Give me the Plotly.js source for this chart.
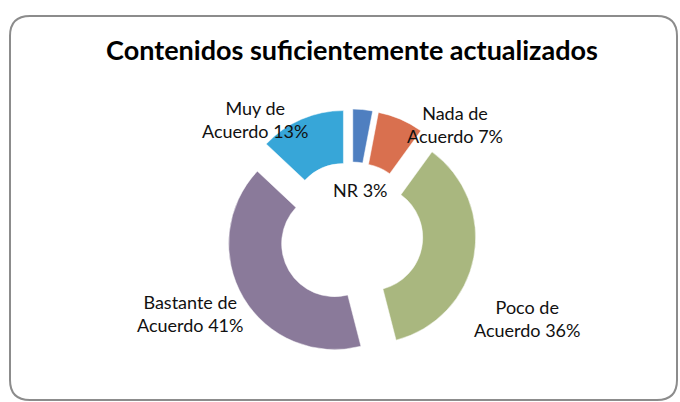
<!DOCTYPE html>
<html>
<head>
<meta charset="utf-8">
<script src="https://cdn.plot.ly/plotly-3.0.1.min.js"></script>
<style>html,body{margin:0;padding:0;background:#fff}#chart{width:680px;height:402px}</style>
</head>
<body>
<div id="chart"></div>
<script>
var categories = ["NR", "Nada de Acuerdo", "Poco de Acuerdo", "Bastante de Acuerdo", "Muy de Acuerdo"];
var values = [3, 7, 36, 41, 13];
var labelLines = [["NR 3%"], ["Nada de", "Acuerdo 7%"], ["Poco de", "Acuerdo 36%"], ["Bastante de", "Acuerdo 41%"], ["Muy de", "Acuerdo 13%"]];
var colors = ["#4f7fc0", "#d9704f", "#a9b77f", "#8a7a9a", "#37a6d8"];

var W = 680, H = 402;
var cx = 351, cy = 234, half = 125;
var labelPos = [[360, 190], [455, 125], [527, 318], [190, 313], [255, 120]];

var trace = {
  type: "pie",
  labels: categories,
  values: values,
  sort: false,
  direction: "clockwise",
  rotation: 0,
  hole: 0.5,
  pull: [0.18, 0.18, 0.18, 0.18, 0.18],
  marker: {colors: colors, line: {color: "rgba(255,255,255,0.5)", width: 1}},
  textinfo: "none",
  hoverinfo: "label+percent",
  showlegend: false,
  domain: {x: [(cx - half) / W, (cx + half) / W], y: [(H - cy - half) / H, (H - cy + half) / H]}
};

var annotations = labelLines.map(function (lines, i) {
  return {
    text: lines.join("<br>"),
    x: labelPos[i][0] / W, y: 1 - labelPos[i][1] / H,
    xref: "paper", yref: "paper", showarrow: false,
    xanchor: "center", yanchor: "middle", align: "center",
    font: {family: "Lato, sans-serif", size: 18, color: "#111"}
  };
});

var rx = 20 / W, ry = 20 / H;
var x0 = 10 / W, x1 = 677 / W, y0 = 1 - 400 / H, y1 = 1 - 16 / H;
var path = "M " + (x0 + rx) + " " + y1 +
  " L " + (x1 - rx) + " " + y1 + " Q " + x1 + " " + y1 + " " + x1 + " " + (y1 - ry) +
  " L " + x1 + " " + (y0 + ry) + " Q " + x1 + " " + y0 + " " + (x1 - rx) + " " + y0 +
  " L " + (x0 + rx) + " " + y0 + " Q " + x0 + " " + y0 + " " + x0 + " " + (y0 + ry) +
  " L " + x0 + " " + (y1 - ry) + " Q " + x0 + " " + y1 + " " + (x0 + rx) + " " + y1 + " Z";

var layout = {
  width: W, height: H,
  margin: {l: 0, r: 0, t: 0, b: 0},
  paper_bgcolor: "#ffffff",
  title: {
    text: "<b>Contenidos suficientemente actualizados</b>",
    x: 352 / W, xanchor: "center", y: 1 - 51 / H, yanchor: "middle",
    font: {family: "Lato, sans-serif", size: 27, color: "#000"}
  },
  shapes: [{type: "path", xref: "paper", yref: "paper", path: path, line: {color: "#8c8c8c", width: 2}}],
  annotations: annotations
};

Plotly.newPlot("chart", [trace], layout, {staticPlot: true});
</script>
</body>
</html>
